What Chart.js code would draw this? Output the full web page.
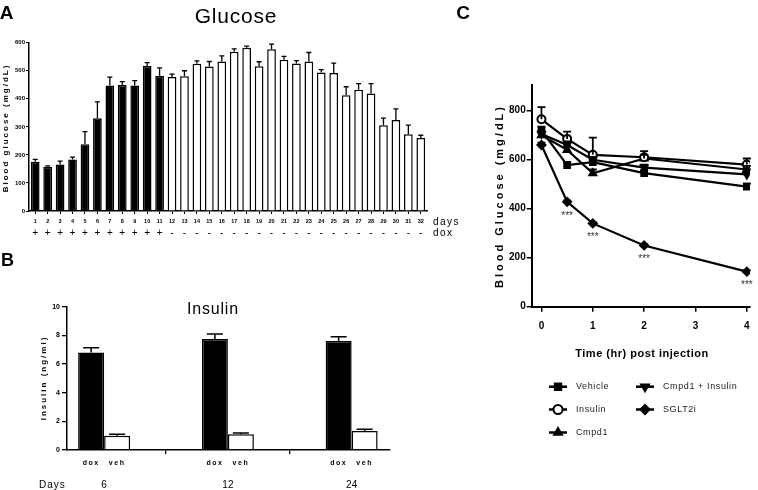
<!DOCTYPE html>
<html>
<head>
<meta charset="utf-8">
<script src="https://cdn.jsdelivr.net/npm/chart.js@4.4.1/dist/chart.umd.min.js"></script>
<style>
body { margin: 0; background: #fff; width: 758px; height: 490px; position: relative; overflow: hidden; font-family: "Liberation Sans", Arial, sans-serif; }
canvas { position: absolute; }
.t { position: absolute; white-space: nowrap; color: #000; line-height: 1; }
.c { transform: translate(-50%, -50%); }
.l { transform: translate(0, -50%); }
.r { transform: translate(-50%, -50%) rotate(-90deg); }
</style>
</head>
<body>
<canvas id="chartA" width="470" height="248" style="left:0;top:0"></canvas>
<canvas id="chartB" width="470" height="240" style="left:0;top:250px"></canvas>
<canvas id="chartC" width="268" height="490" style="left:490px;top:0"></canvas>

<div class="t c" style="left:6.5px;top:12px;font-weight:bold;font-size:19px">A</div>
<div class="t c" style="left:236px;top:14.7px;font-size:21px;letter-spacing:0.8px">Glucose</div>
<div class="t r" style="left:6px;top:127.5px;font-weight:bold;font-size:8px;letter-spacing:2px">Blood glucose (mg/dL)</div>
<div class="t l" style="left:433px;top:221.7px;font-size:10px;letter-spacing:1.5px">days</div>
<div class="t l" style="left:433px;top:233px;font-size:10px;letter-spacing:1.5px">dox</div>

<div class="t c" style="left:7.5px;top:259.5px;font-weight:bold;font-size:18px">B</div>
<div class="t c" style="left:213px;top:308.5px;font-size:16px;letter-spacing:0.8px">Insulin</div>
<div class="t r" style="left:43.5px;top:377.5px;font-weight:bold;font-size:8px;letter-spacing:2px">Insulin (ng/ml)</div>
<div class="t l" style="left:39px;top:485px;font-size:10px;letter-spacing:1px">Days</div>

<div class="t c" style="left:463px;top:12px;font-weight:bold;font-size:19px">C</div>
<div class="t r" style="left:499px;top:196px;font-weight:bold;font-size:11px;letter-spacing:3px">Blood Glucose (mg/dL)</div>
<div class="t c" style="left:642px;top:352.7px;font-weight:bold;font-size:11px;letter-spacing:0.5px">Time (hr) post injection</div>

<script>
// ---- panel A: daily blood glucose ----
const glucoseDays = ['1','2','3','4','5','6','7','8','9','10','11','12','13','14','15','16',
                     '17','18','19','20','21','22','23','24','25','26','27','28','29','30','31','32'];
const glucoseMean = [176,158,166,184,238,331,447,449,447,517,482,478,480,525,515,533,
                     568,582,516,577,539,526,533,494,492,413,432,419,306,324,274,260];
const glucoseErr  = [8,3,12,8,45,58,30,12,18,12,28,10,20,10,18,20,
                     10,6,16,18,12,10,32,10,35,30,22,35,25,40,32,10];
const doxSigns = ['+','+','+','+','+','+','+','+','+','+','+',
                  '-','-','-','-','-','-','-','-','-','-','-','-','-','-','-','-','-','-','-','-','-'];

// ---- panel B: insulin ----
const insulinDays = ['6', '12', '24'];
const insulinPos = [0, 1, 2];
const insulinDox = [6.81, 7.75, 7.6];
const insulinDoxErr = [0.32, 0.35, 0.3];
const insulinVeh = [1.0, 1.1, 1.32];
const insulinVehErr = [0.1, 0.08, 0.13];

// ---- panel C: glucose after injection ----
const timeHr = [0, 0.5, 1, 2, 4];
const seriesNames = ['Vehicle', 'Insulin', 'Cmpd1', 'Cmpd1 + Insulin', 'SGLT2i'];
const vehicle = [720, 578, 590, 545, 490];
const insulin = [765, 685, 620, 610, 580];
const cmpd1 = [700, 640, 545, 605, 560];
const cmpd1Insulin = [705, 660, 600, 568, 540];
const sglt2i = [660, 428, 340, 250, 143];
const vehicleErr = [15, 12, 10, 12, 12];
const insulinErr = [50, 30, 70, 25, 25];
const cmpd1Err = [15, 15, 15, 15, 15];
const cmpd1InsulinErr = [12, 15, 12, 12, 20];
const sglt2iErr = [10, 5, 5, 5, 5];
const sglt2iSig = ['', '***', '***', '***', '***'];

const FONT = '"Liberation Sans", Arial, sans-serif';
const NARROW = '"Liberation Sans Narrow", "Liberation Sans", Arial, sans-serif';

// upward error bars with a cap
const errorBars = {
  id: 'errorBars',
  afterDatasetsDraw(chart, args, opts) {
    const ctx = chart.ctx;
    const y = chart.scales.y;
    chart.data.datasets.forEach((ds, di) => {
      if (!ds.errors) return;
      chart.getDatasetMeta(di).data.forEach((el, i) => {
        const d = ds.data[i];
        const v = typeof d === 'object' ? d.y : d;
        const top = y.getPixelForValue(v + ds.errors[i]);
        ctx.save();
        ctx.strokeStyle = '#000';
        ctx.lineWidth = opts.width;
        ctx.beginPath();
        ctx.moveTo(el.x, el.y);
        ctx.lineTo(el.x, top);
        ctx.moveTo(el.x - opts.cap / 2, top);
        ctx.lineTo(el.x + opts.cap / 2, top);
        ctx.stroke();
        ctx.restore();
      });
    });
  }
};

// small text under bars (dox / veh) or under points (***)
const markText = {
  id: 'markText',
  afterDatasetsDraw(chart, args, opts) {
    const ctx = chart.ctx;
    chart.data.datasets.forEach((ds, di) => {
      if (!ds.tags) return;
      chart.getDatasetMeta(di).data.forEach((el, i) => {
        if (!ds.tags[i]) return;
        ctx.save();
        ctx.font = opts.font;
        ctx.letterSpacing = opts.spacing + 'px';
        ctx.fillStyle = opts.color;
        ctx.textAlign = 'center';
        ctx.textBaseline = 'middle';
        const ty = opts.fromAxis ? chart.scales.x.top + opts.offset : el.y + opts.offset;
        ctx.fillText(ds.tags[i], el.x, ty);
        ctx.restore();
      });
    });
  }
};

// legend laid out column by column
const colLegend = {
  id: 'colLegend',
  afterDraw(chart, args, opts) {
    if (!opts.rows) return;
    const ctx = chart.ctx;
    chart.data.datasets.forEach((ds, i) => {
      const x = opts.cols[Math.floor(i / opts.rows.length)];
      const y = opts.rows[i % opts.rows.length];
      ctx.save();
      ctx.strokeStyle = '#000';
      ctx.lineWidth = 2.5;
      ctx.beginPath();
      ctx.moveTo(x - 9, y);
      ctx.lineTo(x + 9, y);
      ctx.stroke();
      ctx.fillStyle = ds.pointBackgroundColor;
      ctx.lineWidth = 2;
      Chart.helpers.drawPoint(ctx, {pointStyle: ds.pointStyle, rotation: ds.pointRotation || 0,
                                    radius: 4.5, borderWidth: 2}, x, y);
      ctx.fillStyle = '#222';
      ctx.font = '9px ' + FONT;
      ctx.letterSpacing = '0.6px';
      ctx.textBaseline = 'middle';
      ctx.fillText(ds.label, x + 18, y);
      ctx.restore();
    });
  }
};

function fixWidth(w) { return s => { s.width = w; }; }
function fixHeight(h) { return s => { s.height = h; }; }

// ---------- A ----------
new Chart(document.getElementById('chartA'), {
  type: 'bar',
  data: {
    labels: glucoseDays,
    datasets: [{
      data: glucoseMean,
      errors: glucoseErr,
      backgroundColor: doxSigns.map(s => s === '+' ? '#000' : '#fff'),
      borderColor: '#000',
      borderWidth: 1.5,
      barPercentage: 0.7,
      categoryPercentage: 1
    }]
  },
  options: {
    responsive: false,
    animation: false,
    devicePixelRatio: 1,
    layout: { padding: { top: 42.7, right: 43, left: 0, bottom: 0 } },
    plugins: { legend: { display: false }, tooltip: { enabled: false },
               errorBars: { width: 1.3, cap: 5 } },
    scales: {
      x: {
        weight: 0,
        grid: { display: true, drawOnChartArea: false, offset: false, tickLength: 3, color: '#000' },
        border: { color: '#000', width: 1.5 },
        ticks: { color: '#000', font: { family: NARROW, size: 5.5, weight: 'bold' }, padding: 4,
                 autoSkip: false, maxRotation: 0 },
        afterFit: fixHeight(15)
      },
      x2: {
        type: 'category',
        labels: doxSigns,
        position: 'bottom',
        weight: 1,
        offset: true,
        grid: { display: false, drawTicks: false },
        border: { display: false },
        ticks: { color: '#000', font: { family: FONT, size: 10 }, padding: 1.6, autoSkip: false, maxRotation: 0 },
        afterFit: fixHeight(22)
      },
      y: {
        min: 0, max: 600,
        ticks: { stepSize: 100, color: '#000', font: { family: NARROW, size: 6, weight: 'bold' }, padding: 1 },
        grid: { drawOnChartArea: false, tickLength: 3, color: '#000' },
        border: { color: '#000', width: 1.5 },
        afterFit: fixWidth(29)
      }
    }
  },
  plugins: [errorBars]
});

// ---------- B ----------
new Chart(document.getElementById('chartB'), {
  type: 'bar',
  data: {
    datasets: [{
      data: insulinPos.map((p, i) => ({ x: p, y: insulinDox[i] })),
      errors: insulinDoxErr,
      tags: insulinPos.map(() => 'dox'),
      backgroundColor: '#000',
      borderColor: '#000',
      borderWidth: 1.5,
      barPercentage: 1,
      categoryPercentage: 0.42
    }, {
      data: insulinPos.map((p, i) => ({ x: p, y: insulinVeh[i] })),
      errors: insulinVehErr,
      tags: insulinPos.map(() => 'veh'),
      backgroundColor: '#fff',
      borderColor: '#000',
      borderWidth: 1.5,
      barPercentage: 1,
      categoryPercentage: 0.42
    }]
  },
  options: {
    responsive: false,
    animation: false,
    devicePixelRatio: 1,
    layout: { padding: { top: 56.7, right: 80, left: 0, bottom: 0 } },
    plugins: { legend: { display: false }, tooltip: { enabled: false },
               errorBars: { width: 1.5, cap: 16 },
               markText: { font: 'bold 7px ' + FONT, spacing: 1.5, color: '#000', fromAxis: true, offset: 13 } },
    scales: {
      x: {
        type: 'linear', min: -0.3, max: 2.31, offset: false, weight: 0,
        afterBuildTicks: s => { s.ticks = [{ value: 0.5 }, { value: 1.5 }]; },
        grid: { drawOnChartArea: false, offset: false, tickLength: 4, color: '#000', lineWidth: 1.3 },
        border: { color: '#000', width: 1.5 },
        ticks: { display: false },
        afterFit: fixHeight(20)
      },
      x2: {
        type: 'linear', min: -0.3, max: 2.31, position: 'bottom', offset: false, weight: 1,
        afterBuildTicks: s => { s.ticks = insulinPos.map(p => ({ value: p })); },
        grid: { display: false, drawTicks: false },
        border: { display: false },
        ticks: { color: '#000', font: { family: FONT, size: 10 }, padding: 9,
                 callback: (v, i) => insulinDays[i] },
        afterFit: fixHeight(20)
      },
      y: {
        min: 0, max: 10,
        ticks: { stepSize: 2, color: '#000', font: { family: NARROW, size: 7, weight: 'bold' }, padding: 2 },
        grid: { drawOnChartArea: false, tickLength: 5, color: '#000', lineWidth: 1.3 },
        border: { color: '#000', width: 1.5 },
        afterFit: fixWidth(67)
      }
    }
  },
  plugins: [errorBars, markText]
});

// ---------- C ----------
const seriesValues = [vehicle, insulin, cmpd1, cmpd1Insulin, sglt2i];
const seriesErrors = [vehicleErr, insulinErr, cmpd1Err, cmpd1InsulinErr, sglt2iErr];
const seriesStyles = [
  { pointStyle: 'rect', pointRotation: 0, fill: '#000' },
  { pointStyle: 'circle', pointRotation: 0, fill: '#fff' },
  { pointStyle: 'triangle', pointRotation: 0, fill: '#000' },
  { pointStyle: 'triangle', pointRotation: 180, fill: '#000' },
  { pointStyle: 'rectRot', pointRotation: 0, fill: '#000' }
];

new Chart(document.getElementById('chartC'), {
  type: 'line',
  data: {
    datasets: seriesNames.map((name, k) => ({
      label: name,
      data: timeHr.map((t, i) => ({ x: t, y: seriesValues[k][i] })),
      errors: seriesErrors[k],
      tags: k === 4 ? sglt2iSig : null,
      borderColor: '#000',
      borderWidth: 2.2,
      pointStyle: seriesStyles[k].pointStyle,
      pointRotation: seriesStyles[k].pointRotation,
      pointBackgroundColor: seriesStyles[k].fill,
      pointBorderColor: '#000',
      pointBorderWidth: 2,
      pointRadius: 4,
      tension: 0
    }))
  },
  options: {
    responsive: false,
    animation: false,
    devicePixelRatio: 1,
    layout: { padding: { top: 85, right: 1.3, left: 0, bottom: 153.3 } },
    plugins: { legend: { display: false }, tooltip: { enabled: false },
               errorBars: { width: 1.8, cap: 8 },
               markText: { font: '10px ' + FONT, spacing: 0, color: '#333', fromAxis: false, offset: 14 },
               colLegend: { cols: [68, 155], rows: [386.7, 409.5, 432.5] } },
    scales: {
      x: {
        type: 'linear', min: -0.19, max: 4.06,
        afterBuildTicks: s => { s.ticks = [0, 1, 2, 3, 4].map(v => ({ value: v })); },
        grid: { drawOnChartArea: false, tickLength: 5, color: '#000', lineWidth: 1.5 },
        border: { color: '#000', width: 2 },
        ticks: { color: '#000', font: { family: NARROW, size: 10, weight: 'bold' }, padding: 8.3 },
        afterFit: fixHeight(30)
      },
      y: {
        min: 0, max: 905,
        afterBuildTicks: s => { s.ticks = [0, 200, 400, 600, 800].map(v => ({ value: v })); },
        grid: { drawOnChartArea: false, tickLength: 5, color: '#000', lineWidth: 1.5 },
        border: { color: '#000', width: 2 },
        ticks: { color: '#000', font: { family: NARROW, size: 10, weight: 'bold' }, padding: 1 },
        afterFit: fixWidth(41.7)
      }
    }
  },
  plugins: [errorBars, markText, colLegend]
});
</script>
</body>
</html>
